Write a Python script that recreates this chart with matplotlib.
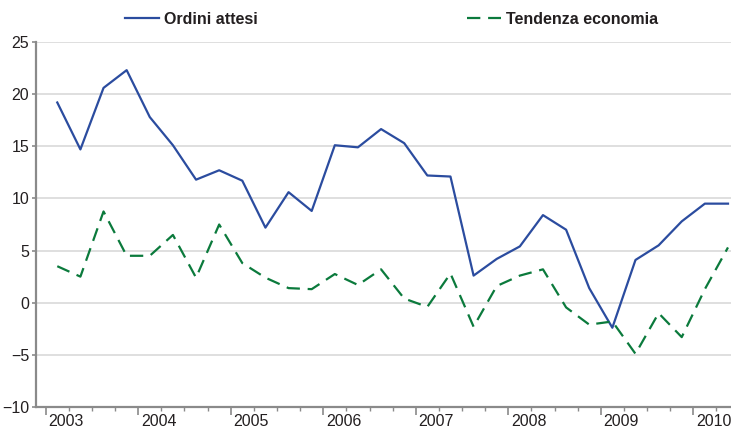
import numpy as np
import matplotlib
matplotlib.use("Agg")
import matplotlib.pyplot as plt
import matplotlib.transforms as mtransforms

plt.rcParams['font.family'] = ['Liberation Sans', 'DejaVu Sans']

years = [2003, 2004, 2005, 2006, 2007, 2008, 2009, 2010]
labels = ["Ordini attesi", "Tendenza economia"]

# quarterly values, 2003 Q1 .. 2010 Q2
ordini = [19.2, 14.7, 20.6, 22.3,
          17.8, 15.1, 11.8, 12.7,
          11.7, 7.2, 10.6, 8.8,
          15.1, 14.9, 16.65, 15.3,
          12.2, 12.1, 2.6, 4.2,
          5.4, 8.4, 7.0, 1.4,
          -2.4, 4.1, 5.5, 7.8,
          9.5, 9.5]
tendenza = [3.5, 2.5, 8.75, 4.5,
            4.5, 6.5, 2.4, 7.5,
            3.8, 2.4, 1.4, 1.3,
            2.75, 1.7, 3.2, 0.4,
            -0.4, 2.8, -2.3, 1.6,
            2.6, 3.2, -0.45, -2.1,
            -1.8, -4.9, -1.0, -3.3,
            1.3, 5.3]

blue = "#2b4c9f"
green = "#0b7a3c"
grey = "#8a8a8a"
txt = "#231f20"

fig = plt.figure(figsize=(7.31, 4.28), dpi=100)
ax = fig.add_axes([36 / 731, 21 / 428, 695 / 731, 365 / 428])

x = np.arange(len(ordini)) + 0.5
ax.plot(x, ordini, color=blue, lw=1.6, label=labels[0])
ax.plot(x, tendenza, color=green, lw=1.6, dashes=(6, 3.5), label=labels[1])

ax.set_ylim(-10, 25)
ax.set_xlim(-0.42, 29.63)
ax.set_yticks(range(-10, 26, 5))
ax.yaxis.grid(True, color="#d9d9d9", lw=1.2)
ax.set_axisbelow(True)

ax.set_xticks([4 * i for i in range(len(years))])
ax.set_xticks([i for i in range(30) if i % 4 != 0], minor=True)
ax.set_xticklabels([])
ax.tick_params(axis="x", which="major", length=6, width=1.2, color=grey, direction="out")
ax.tick_params(axis="x", which="minor", length=3, width=1, color=grey, direction="out")
ax.tick_params(axis="y", length=3, width=1.2, color=grey, labelsize=11.5, labelcolor=txt, pad=2)

trans = mtransforms.blended_transform_factory(ax.transData, ax.transAxes)
for i, yr in enumerate(years):
    ax.text(4 * i + 0.12, -0.018, str(yr), transform=trans, ha="left", va="top",
            fontsize=11.5, color=txt)

for s in ["top", "right"]:
    ax.spines[s].set_visible(False)
for s in ["left", "bottom"]:
    ax.spines[s].set_color(grey)
    ax.spines[s].set_linewidth(1.6)

leg = fig.legend(loc="center left", bbox_to_anchor=(117 / 731, 1 - 19 / 428), ncol=2,
                 frameon=False, borderpad=0, handlelength=2.1, handletextpad=0.35,
                 columnspacing=13.1, prop={"weight": "bold", "size": 11.5})
for t in leg.get_texts():
    t.set_color(txt)

fig.savefig("out.png", dpi=100)
